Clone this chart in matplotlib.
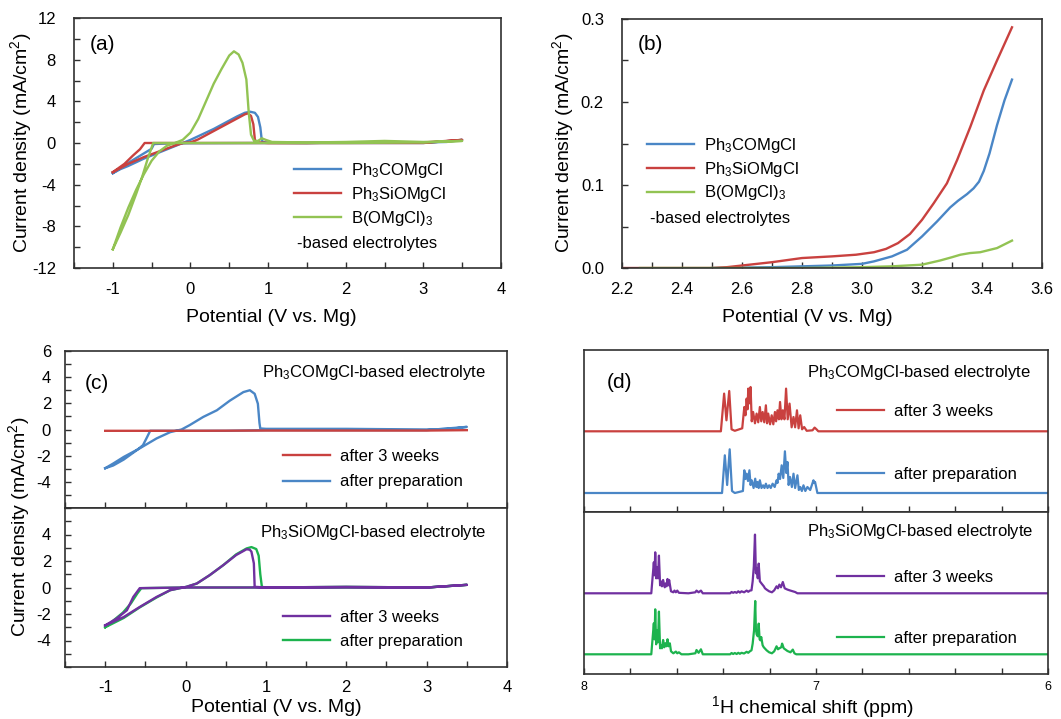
import numpy as np
import matplotlib.pyplot as plt
from matplotlib.ticker import MultipleLocator, FixedLocator, NullFormatter

plt.rcParams['font.family'] = ['Liberation Sans', 'DejaVu Sans']
plt.rcParams['mathtext.default'] = 'regular'
plt.rcParams['axes.unicode_minus'] = False

W, H = 1061, 719

BLUE = '#4a86c6'
RED = '#c9413f'
LGREEN = '#92c353'
GREEN = '#1db34e'
PURPLE = '#7030a0'
SPINE = '#303030'

# ---------- (a) CV of the three electrolytes ----------
a_blue_x = [-1.0, -0.9, -0.8, -0.7, -0.6, -0.5, -0.4, -0.3, -0.2, -0.1, 0.0, 0.1, 0.2, 0.3,
            0.4, 0.5, 0.6, 0.7, 0.77, 0.83, 0.87, 0.9, 0.915, 0.93, 0.96, 1.0, 1.5, 2.0,
            2.5, 3.0, 3.3, 3.5, 3.0, 2.0, 1.0, 0.0, -0.3, -0.47, -0.5, -0.6, -0.7, -0.8, -0.9, -1.0]
a_blue_y = [-2.9, -2.5, -2.2, -1.85, -1.5, -1.2, -0.9, -0.6, -0.3, 0.0, 0.3, 0.65, 1.0, 1.35,
            1.75, 2.15, 2.55, 2.9, 3.0, 2.9, 2.5, 1.5, 0.5, 0.1, 0.05, 0.02, 0.0, 0.05,
            0.1, 0.05, 0.1, 0.3, 0.0, 0.0, 0.0, -0.02, -0.05, -0.1, -0.55, -1.0, -1.45, -1.9, -2.4, -2.9]
a_red_x = [-1.0, -0.8, -0.6, -0.4, -0.2, -0.1, 0.0, 0.1, 0.2, 0.3, 0.4, 0.5, 0.6, 0.7, 0.74,
           0.78, 0.81, 0.83, 0.86, 1.0, 1.5, 2.0, 2.5, 3.0, 3.5, 3.0, 2.0, 1.0, 0.0, -0.5,
           -0.59, -0.65, -0.74, -0.85, -1.0]
a_red_y = [-2.8, -2.0, -1.35, -0.8, -0.25, 0.0, 0.05, 0.35, 0.75, 1.15, 1.55, 1.95, 2.35, 2.75, 2.85,
           2.6, 1.8, 0.3, 0.05, 0.0, 0.0, 0.05, 0.05, 0.05, 0.3, 0.0, 0.0, 0.0, 0.0, 0.0,
           0.0, -0.6, -1.2, -2.0, -2.8]
a_green_x = [-1.0, -0.9, -0.8, -0.7, -0.6, -0.5, -0.4, -0.3, -0.2, -0.1, 0.0, 0.1, 0.2, 0.3,
             0.4, 0.5, 0.56, 0.62, 0.67, 0.72, 0.75, 0.78, 0.82, 0.87, 0.92, 0.97, 1.05, 1.5,
             2.0, 2.5, 3.0, 3.5, 3.0, 2.0, 1.0, 0.0, -0.3, -0.48, -0.55, -0.62, -0.7, -0.8, -0.9, -1.0]
a_green_y = [-10.2, -8.1, -6.2, -4.5, -3.0, -1.7, -0.8, -0.25, 0.0, 0.3, 1.0, 2.3, 4.0, 5.7,
             7.1, 8.4, 8.8, 8.5, 7.7, 6.1, 3.0, 0.8, 0.2, 0.2, 0.45, 0.3, 0.1, 0.05,
             0.1, 0.2, 0.1, 0.2, 0.05, 0.0, 0.0, 0.0, 0.0, 0.0, -1.5, -3.2, -4.9, -6.9, -8.6, -10.2]

# ---------- (b) anodic stability ----------
b_red_x = [2.2, 2.5, 2.55, 2.6, 2.7, 2.8, 2.9, 2.98, 3.04, 3.08, 3.12, 3.16, 3.2, 3.239, 3.283,
           3.317, 3.361, 3.406, 3.45, 3.5]
b_red_y = [0.0, 0.0, 0.001, 0.003, 0.007, 0.012, 0.014, 0.016, 0.019, 0.023, 0.030, 0.041, 0.058,
           0.078, 0.102, 0.130, 0.170, 0.214, 0.25, 0.29]
b_blue_x = [2.5, 2.7, 2.8, 2.9, 2.95, 3.0, 3.04, 3.1, 3.15, 3.2, 3.25, 3.294, 3.32, 3.35, 3.372,
            3.39, 3.406, 3.425, 3.45, 3.475, 3.5]
b_blue_y = [0.0, 0.001, 0.002, 0.003, 0.004, 0.005, 0.008, 0.014, 0.022, 0.038, 0.056, 0.073, 0.081,
            0.089, 0.096, 0.104, 0.117, 0.138, 0.172, 0.202, 0.227]
b_green_x = [2.26, 2.8, 3.0, 3.1, 3.2, 3.26, 3.3, 3.328, 3.36, 3.394, 3.45, 3.5]
b_green_y = [0.0, 0.0, 0.001, 0.002, 0.004, 0.009, 0.013, 0.016, 0.018, 0.019, 0.024, 0.033]

# ---------- (c) ageing CVs ----------
c_co_prep_x = [-1.0, -0.9, -0.77, -0.57, -0.36, -0.19, -0.05, 0.05, 0.22, 0.39, 0.55, 0.72, 0.8,
               0.86, 0.9, 0.92, 0.93, 1.0, 2.0, 3.0, 3.3, 3.5, 3.0, 2.0, 1.0, 0.5, 0.0, -0.3,
               -0.44, -0.48, -0.53, -0.6, -0.77, -0.9, -1.0]
c_co_prep_y = [-2.96, -2.6, -2.1, -1.44, -0.68, -0.2, 0.0, 0.33, 0.96, 1.47, 2.2, 2.86, 3.0,
               2.73, 1.97, 0.5, 0.08, 0.05, 0.05, 0.0, 0.05, 0.2, -0.05, -0.05, -0.05, -0.1, -0.1, -0.1,
               -0.1, -0.6, -1.2, -1.55, -2.3, -2.75, -2.96]
c_co_aged_x = [-1.0, 0.0, 1.0, 2.0, 3.0, 3.5]
c_co_aged_y = [-0.1, -0.1, -0.08, -0.08, -0.08, -0.05]

c_si_prep_x = [-1.0, -0.77, -0.57, -0.36, -0.19, 0.01, 0.14, 0.3, 0.47, 0.63, 0.76, 0.82, 0.88,
               0.91, 0.93, 0.95, 1.0, 2.0, 3.0, 3.5, 3.0, 2.0, 1.0, 0.0, -0.55, -0.6, -0.68,
               -0.78, -0.9, -1.0]
c_si_prep_y = [-3.0, -2.3, -1.5, -0.75, -0.2, 0.05, 0.3, 0.93, 1.69, 2.5, 2.95, 3.05, 2.9,
               2.4, 1.0, 0.05, 0.0, 0.05, 0.0, 0.2, 0.0, 0.0, 0.0, 0.0, -0.05, -0.45, -1.2,
               -1.9, -2.5, -3.0]
c_si_aged_x = [-1.0, -0.77, -0.57, -0.36, -0.19, 0.01, 0.14, 0.3, 0.47, 0.63, 0.76, 0.8, 0.82,
               0.85, 0.86, 1.0, 2.0, 3.0, 3.5, 3.0, 2.0, 1.0, 0.0, -0.57, -0.6, -0.65, -0.73,
               -0.86, -1.0]
c_si_aged_y = [-2.86, -2.23, -1.47, -0.71, -0.2, 0.05, 0.3, 0.93, 1.69, 2.45, 2.89, 2.85, 2.7,
               1.82, 0.05, 0.0, 0.05, 0.0, 0.2, 0.0, 0.0, 0.0, 0.0, -0.05, -0.3, -0.71, -1.72,
               -2.35, -2.86]

# ---------- (d) 1H NMR, (ppm, height) ----------
nmr_co_aged = np.array([
    (8.0, 0), (7.41, 0), (7.396, 37.7), (7.386, 11), (7.374, 40.3), (7.364, 2), (7.35, 0.5),
    (7.318, 3), (7.309, 24.3), (7.304, 16), (7.299, 32.7), (7.295, 22), (7.292, 42.7), (7.287, 28),
    (7.282, 44.3), (7.277, 10), (7.271, 19.3), (7.263, 8), (7.256, 17.7), (7.249, 9), (7.242, 24.3),
    (7.236, 10), (7.230, 19.3), (7.223, 9), (7.216, 26), (7.211, 8), (7.206, 17.7), (7.198, 7),
    (7.191, 16), (7.184, 7), (7.177, 19.3), (7.172, 10), (7.166, 21), (7.160, 12), (7.155, 29.3),
    (7.149, 12), (7.143, 21), (7.136, 12), (7.129, 42.7), (7.122, 12), (7.114, 27.7), (7.105, 4),
    (7.097, 14.3), (7.09, 4), (7.082, 21), (7.075, 3), (7.068, 16), (7.06, 2), (7.051, 4.3),
    (7.04, 0.5), (7.015, 1), (7.006, 3.7), (6.998, 2), (6.99, 0), (6.0, 0)])
nmr_co_prep = np.array([
    (8.0, 0), (7.405, 0), (7.393, 37.7), (7.383, 8), (7.372, 43.7), (7.362, 2), (7.35, 0),
    (7.315, 2), (7.309, 22.7), (7.304, 14), (7.299, 19.3), (7.293, 12), (7.287, 22.7), (7.282, 8),
    (7.277, 12.7), (7.269, 5), (7.262, 14.3), (7.257, 6), (7.252, 11), (7.247, 5), (7.242, 12.7),
    (7.235, 5), (7.228, 7.7), (7.222, 5), (7.216, 9.3), (7.209, 5), (7.202, 7.7), (7.195, 5),
    (7.187, 9.3), (7.178, 6), (7.170, 12.7), (7.166, 10), (7.161, 19.3), (7.155, 14), (7.148, 27.7),
    (7.141, 15), (7.134, 41.7), (7.128, 20), (7.123, 31), (7.118, 8), (7.112, 16), (7.104, 6),
    (7.097, 19.3), (7.09, 5), (7.080, 17.7), (7.074, 3), (7.068, 6), (7.061, 2), (7.054, 7.7),
    (7.046, 2), (7.037, 6), (7.025, 3), (7.011, 12.7), (7.007, 10), (7.004, 11), (6.994, 0), (6.0, 0)])
nmr_si_aged = np.array([
    (8.0, 0), (7.71, 0), (7.699, 31), (7.696, 18), (7.693, 41), (7.689, 15), (7.685, 26),
    (7.681, 15), (7.677, 37.7), (7.672, 8), (7.669, 12), (7.664, 7), (7.659, 13.3), (7.652, 6),
    (7.647, 10), (7.644, 7), (7.640, 14.3), (7.636, 8), (7.633, 13.3), (7.625, 2), (7.615, 1),
    (7.610, 2.7), (7.604, 1), (7.598, 2.7), (7.591, 0.5), (7.55, 0), (7.52, 1), (7.515, 2.7),
    (7.506, 1), (7.496, 2.7), (7.488, 0), (7.37, 0), (7.364, 1.3), (7.357, 0.5), (7.35, 1.3),
    (7.342, 0.5), (7.335, 2), (7.328, 0.7), (7.321, 2), (7.31, 1), (7.299, 2.7), (7.292, 1.5),
    (7.285, 2.7), (7.278, 3), (7.273, 12), (7.268, 27), (7.263, 58.7), (7.259, 20), (7.256, 25.3),
    (7.251, 15), (7.247, 29.7), (7.242, 12), (7.233, 9.3), (7.225, 7), (7.220, 5), (7.213, 3.7),
    (7.202, 2), (7.19, 1), (7.18, 3), (7.170, 7), (7.164, 5), (7.158, 8.7), (7.151, 6),
    (7.143, 11.3), (7.135, 5), (7.123, 3.7), (7.110, 2.7), (7.100, 2), (7.09, 1.3), (7.08, 0), (6.0, 0)])
nmr_si_prep = np.array([
    (8.0, 0), (7.71, 0), (7.699, 31), (7.696, 15), (7.693, 45), (7.689, 10), (7.685, 24),
    (7.681, 12), (7.677, 42.7), (7.672, 6), (7.669, 9), (7.664, 6), (7.659, 14.3), (7.654, 7),
    (7.649, 11), (7.645, 8), (7.640, 15), (7.636, 8), (7.630, 11), (7.625, 3), (7.615, 1),
    (7.604, 2.7), (7.598, 1), (7.591, 2), (7.58, 0), (7.55, 0), (7.52, 1), (7.515, 4.3),
    (7.506, 1.5), (7.496, 5), (7.488, 0), (7.37, 0), (7.364, 1.3), (7.357, 0.3), (7.35, 1.3),
    (7.342, 0.3), (7.335, 1.5), (7.328, 0.5), (7.321, 1.5), (7.31, 0.8), (7.299, 2.5), (7.292, 1.5),
    (7.285, 3), (7.278, 4), (7.273, 10.7), (7.267, 24), (7.262, 53.3), (7.259, 25), (7.256, 20),
    (7.251, 18), (7.247, 30.7), (7.243, 15), (7.240, 14), (7.236, 17.3), (7.230, 9), (7.225, 7),
    (7.213, 4), (7.202, 2), (7.19, 1), (7.18, 3), (7.170, 8), (7.164, 5), (7.158, 6), (7.150, 7),
    (7.146, 10.7), (7.139, 6), (7.123, 3.3), (7.110, 2), (7.100, 4.7), (7.093, 1), (7.085, 0), (6.0, 0)])
nmr_offsets = [80.7, 19.0, 80.7, 19.7]

labels_abc = ['Ph$_3$COMgCl', 'Ph$_3$SiOMgCl', 'B(OMgCl)$_3$']
labels_age = ['after 3 weeks', 'after preparation']
ylabel = 'Current density (mA/cm$^2$)'
xlabel = 'Potential (V vs. Mg)'


fig = plt.figure(figsize=(W / 100, H / 100), dpi=100)


def px_axes(left, top, right, bottom):
    return fig.add_axes([left / W, 1 - bottom / H, (right - left) / W, (bottom - top) / H])


def style(ax, pad_x=10, pad_y=12, size=12):
    for s in ax.spines.values():
        s.set_color(SPINE)
        s.set_linewidth(1.2)
    ax.tick_params(which='both', direction='in', length=4, width=1, color=SPINE,
                   labelsize=size, top=False, right=False)
    ax.tick_params(axis='x', which='both', pad=pad_x)
    ax.tick_params(axis='y', which='both', pad=pad_y)


def add_legend(ax, handles, labels, x, y, spacing):
    ax.legend(handles, labels, loc='upper left', bbox_to_anchor=(x, y), frameon=False,
              fontsize=12, handlelength=2.8, handletextpad=0.6, borderpad=0,
              borderaxespad=0, labelspacing=spacing)


def fig_text(x, y, s, **kw):
    fig.text(x / W, 1 - y / H, s, ha='center', va='center', **kw)


# (a)
ax = px_axes(74, 18, 501, 268)
l1, = ax.plot(a_blue_x, a_blue_y, color=BLUE, lw=1.7)
l2, = ax.plot(a_red_x, a_red_y, color=RED, lw=1.7)
l3, = ax.plot(a_green_x, a_green_y, color=LGREEN, lw=1.7)
ax.set_xlim(-1.5, 4)
ax.set_ylim(-12, 12)
ax.xaxis.set_major_locator(MultipleLocator(1))
ax.xaxis.set_minor_locator(MultipleLocator(0.5))
ax.yaxis.set_major_locator(MultipleLocator(4))
ax.yaxis.set_minor_locator(MultipleLocator(2))
style(ax, pad_x=10, pad_y=13)
add_legend(ax, [l1, l2, l3], labels_abc, 0.515, 0.43, 0.32)
ax.text(0.522, 0.1, '-based electrolytes', transform=ax.transAxes, fontsize=12, va='center')
ax.text(0.037, 0.892, '(a)', transform=ax.transAxes, fontsize=15, va='center')
fig_text(21, 143, ylabel, rotation=90, fontsize=14)
fig_text(271, 318, xlabel, fontsize=14)

# (b)
ax = px_axes(622, 19, 1042, 268)
l1, = ax.plot(b_blue_x, b_blue_y, color=BLUE, lw=1.7)
l2, = ax.plot(b_red_x, b_red_y, color=RED, lw=1.7)
l3, = ax.plot(b_green_x, b_green_y, color=LGREEN, lw=1.7)
ax.set_xlim(2.2, 3.6)
ax.set_ylim(0, 0.3)
ax.xaxis.set_major_locator(MultipleLocator(0.2))
ax.xaxis.set_minor_locator(MultipleLocator(0.1))
ax.yaxis.set_major_locator(MultipleLocator(0.1))
ax.yaxis.set_minor_locator(MultipleLocator(0.05))
ax.xaxis.set_major_formatter(lambda v, p: f'{v:.1f}')
ax.yaxis.set_major_formatter(lambda v, p: f'{v:.1f}')
style(ax, pad_x=10, pad_y=13)
add_legend(ax, [l1, l2, l3], labels_abc, 0.06, 0.53, 0.28)
ax.text(0.067, 0.2, '-based electrolytes', transform=ax.transAxes, fontsize=12, va='center')
ax.text(0.038, 0.896, '(b)', transform=ax.transAxes, fontsize=15, va='center')
fig_text(563, 143, ylabel, rotation=90, fontsize=14)
fig_text(807, 318, xlabel, fontsize=14)

# (c)
c_top = px_axes(65, 351, 507, 508)
c_bot = px_axes(65, 508, 507, 667)
for ax in (c_top, c_bot):
    ax.set_xlim(-1.5, 4)
    ax.set_ylim(-6, 6)
    ax.xaxis.set_major_locator(MultipleLocator(1))
    ax.xaxis.set_minor_locator(MultipleLocator(0.5))
    ax.yaxis.set_minor_locator(MultipleLocator(1))
    style(ax, pad_x=9, pad_y=10)
c_top.yaxis.set_major_locator(FixedLocator([-4, -2, 0, 2, 4, 6]))
c_bot.yaxis.set_major_locator(FixedLocator([-4, -2, 0, 2, 4]))
c_top.xaxis.set_major_formatter(NullFormatter())

l_prep, = c_top.plot(c_co_prep_x, c_co_prep_y, color=BLUE, lw=1.7)
l_aged, = c_top.plot(c_co_aged_x, c_co_aged_y, color=RED, lw=1.7)
add_legend(c_top, [l_aged, l_prep], labels_age, 0.493, 0.375, 0.62)
c_top.text(0.446, 0.862, 'Ph$_3$COMgCl-based electrolyte', transform=c_top.transAxes,
           fontsize=12, va='center')
c_top.text(0.045, 0.796, '(c)', transform=c_top.transAxes, fontsize=15, va='center')

l_prep, = c_bot.plot(c_si_prep_x, c_si_prep_y, color=GREEN, lw=1.7)
l_aged, = c_bot.plot(c_si_aged_x, c_si_aged_y, color=PURPLE, lw=1.7)
add_legend(c_bot, [l_aged, l_prep], labels_age, 0.493, 0.36, 0.55)
c_bot.text(0.441, 0.847, 'Ph$_3$SiOMgCl-based electrolyte', transform=c_bot.transAxes,
           fontsize=12, va='center')
fig_text(19, 527, ylabel, rotation=90, fontsize=14)
fig_text(276, 708, xlabel, fontsize=14)

# (d)
d_top = px_axes(584, 350, 1048, 512)
d_bot = px_axes(584, 512, 1048, 674)
for ax in (d_top, d_bot):
    ax.set_xlim(8, 6)
    ax.set_ylim(0, 162)
    ax.xaxis.set_major_locator(MultipleLocator(1))
    ax.xaxis.set_minor_locator(MultipleLocator(0.2))
    ax.set_yticks([])
    style(ax, pad_x=5, size=9)
d_top.xaxis.set_major_formatter(NullFormatter())
d_bot.xaxis.set_major_formatter(lambda v, p: f'{v:.0f}')

l_aged, = d_top.plot(nmr_co_aged[:, 0], nmr_co_aged[:, 1] + nmr_offsets[0], color=RED, lw=1.6)
l_prep, = d_top.plot(nmr_co_prep[:, 0], nmr_co_prep[:, 1] + nmr_offsets[1], color=BLUE, lw=1.6)
add_legend(d_top, [l_aged, l_prep], labels_age, 0.545, 0.665, 2.85)
d_top.text(0.48, 0.86, 'Ph$_3$COMgCl-based electrolyte', transform=d_top.transAxes,
           fontsize=12, va='center')
d_top.text(0.05, 0.80, '(d)', transform=d_top.transAxes, fontsize=15, va='center')

l_aged, = d_bot.plot(nmr_si_aged[:, 0], nmr_si_aged[:, 1] + nmr_offsets[2], color=PURPLE, lw=1.6)
l_prep, = d_bot.plot(nmr_si_prep[:, 0], nmr_si_prep[:, 1] + nmr_offsets[3], color=GREEN, lw=1.6)
add_legend(d_bot, [l_aged, l_prep], labels_age, 0.545, 0.64, 2.75)
d_bot.text(0.48, 0.878, 'Ph$_3$SiOMgCl-based electrolyte', transform=d_bot.transAxes,
           fontsize=12, va='center')
fig_text(813, 707, '$^1$H chemical shift (ppm)', fontsize=14)

fig.savefig('out.png', dpi=100)
